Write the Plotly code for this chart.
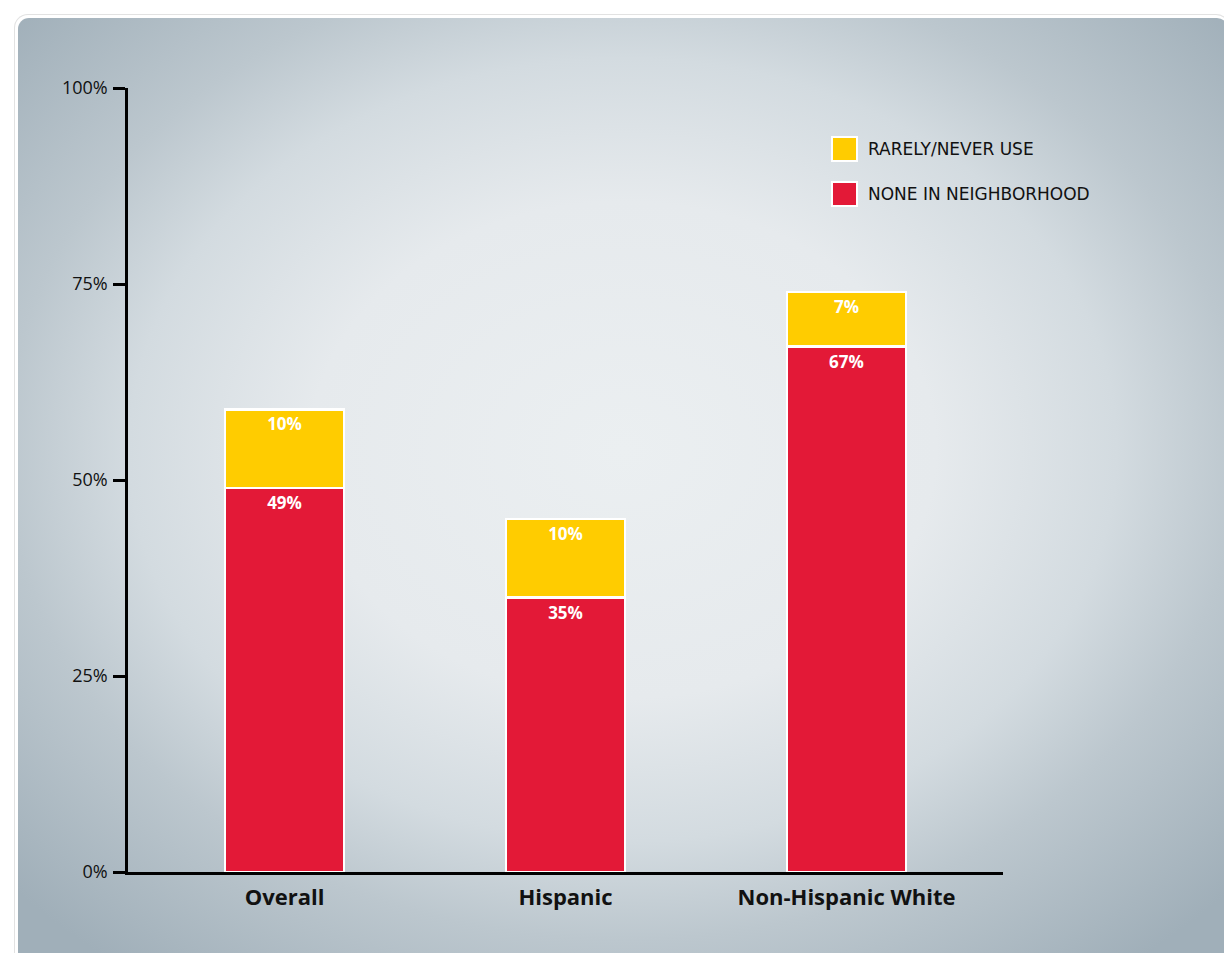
import base64

import plotly.graph_objects as go

categories = ["Overall", "Hispanic", "Non-Hispanic White"]
none_in_neighborhood = [49, 35, 67]
rarely_never_use = [10, 10, 7]
y_ticks = [0, 25, 50, 75, 100]
y_tick_labels = ["0%", "25%", "50%", "75%", "100%"]

RED = "#e31937"
YELLOW = "#ffcc00"
FONT = "Open Sans"

# page body has an 8px margin, so the figure sits at (8, 8)
OFF = 8
W, H = 1224, 945
L, T = 128 - OFF, 88 - OFF
R, B = W - (1003 - OFF), H - (872 - OFF)
PW, PH = W - L - R, H - T - B

# vignette panel behind everything
svg = f"""<svg xmlns='http://www.w3.org/2000/svg' width='{W}' height='{H}' viewBox='0 0 {W} {H}' preserveAspectRatio='none'>
<defs>
<radialGradient id='g' cx='0.5' cy='0.45' r='0.68'>
<stop offset='0' stop-color='#ebeff1'/>
<stop offset='0.38' stop-color='#e6eaed'/>
<stop offset='0.6' stop-color='#d3dbe0'/>
<stop offset='0.75' stop-color='#bcc7ce'/>
<stop offset='1' stop-color='#a0afb9'/>
</radialGradient>
</defs>
<rect x='0' y='0' width='{W}' height='{H}' fill='#ffffff'/>
<rect x='6' y='6' width='1216' height='960' rx='14' fill='#e2e2e2'/>
<rect x='7' y='7' width='1214' height='960' rx='13' fill='#ffffff'/>
<rect x='10' y='10' width='1210' height='960' rx='11' fill='url(#g)'/>
</svg>"""
bg_uri = "data:image/svg+xml;base64," + base64.b64encode(svg.encode()).decode()

fig = go.Figure()
fig.add_trace(go.Bar(
    x=categories, y=none_in_neighborhood, name="NONE IN NEIGHBORHOOD",
    marker=dict(color=RED, line=dict(color="white", width=2.5)),
    text=[f"{v}%" for v in none_in_neighborhood], textposition="inside",
    insidetextanchor="end", textangle=0,
    textfont=dict(family=FONT, size=17, color="white", weight="bold")))
fig.add_trace(go.Bar(
    x=categories, y=rarely_never_use, name="RARELY/NEVER USE",
    marker=dict(color=YELLOW, line=dict(color="white", width=2.5)),
    text=[f"{v}%" for v in rarely_never_use], textposition="inside",
    insidetextanchor="end", textangle=0,
    textfont=dict(family=FONT, size=17, color="white", weight="bold")))


# hand-drawn legend (big swatches); positions given in page pixels
def px_x(px):
    return (px - OFF - L) / PW


def px_y(py):
    return (H - B - (py - OFF)) / PH


for (y0, color, label) in [(137, YELLOW, "RARELY/NEVER USE"), (182, RED, "NONE IN NEIGHBORHOOD")]:
    fig.add_shape(type="rect", xref="paper", yref="paper",
                  x0=px_x(832), x1=px_x(857), y0=px_y(y0 + 24), y1=px_y(y0),
                  fillcolor=color, line=dict(color="white", width=2))
    fig.add_annotation(xref="paper", yref="paper", x=px_x(866), y=px_y(y0 + 12),
                       text=label, showarrow=False, xanchor="left", yanchor="middle",
                       font=dict(family="DejaVu Sans", size=17, color="#111111"))

fig.update_layout(
    width=W, height=H, barmode="stack", bargap=0.576, showlegend=False,
    paper_bgcolor="white", plot_bgcolor="rgba(0,0,0,0)",
    margin=dict(l=L, r=R, t=T, b=B, pad=0),
    font=dict(family=FONT, color="#111111"),
    images=[dict(source=bg_uri, xref="paper", yref="paper", x=-L / PW, y=1 + T / PH,
                 sizex=W / PW, sizey=H / PH, sizing="stretch", layer="below",
                 xanchor="left", yanchor="top")],
)
fig.update_xaxes(range=[-0.557, 2.557], showline=True, linecolor="black", linewidth=2.5,
                 ticks="", ticklabelstandoff=4,
                 tickfont=dict(family=FONT, size=22, color="#111111", weight="bold"),
                 showgrid=False, zeroline=False)
fig.update_yaxes(range=[0, 100], tickvals=y_ticks, ticktext=y_tick_labels,
                 showline=True, linecolor="black", linewidth=2.5,
                 ticks="outside", ticklen=12, tickwidth=2.5, tickcolor="black",
                 ticklabelstandoff=2,
                 tickfont=dict(family=FONT, size=18, color="#111111"),
                 showgrid=False, zeroline=False)

fig.write_html("out.html")
